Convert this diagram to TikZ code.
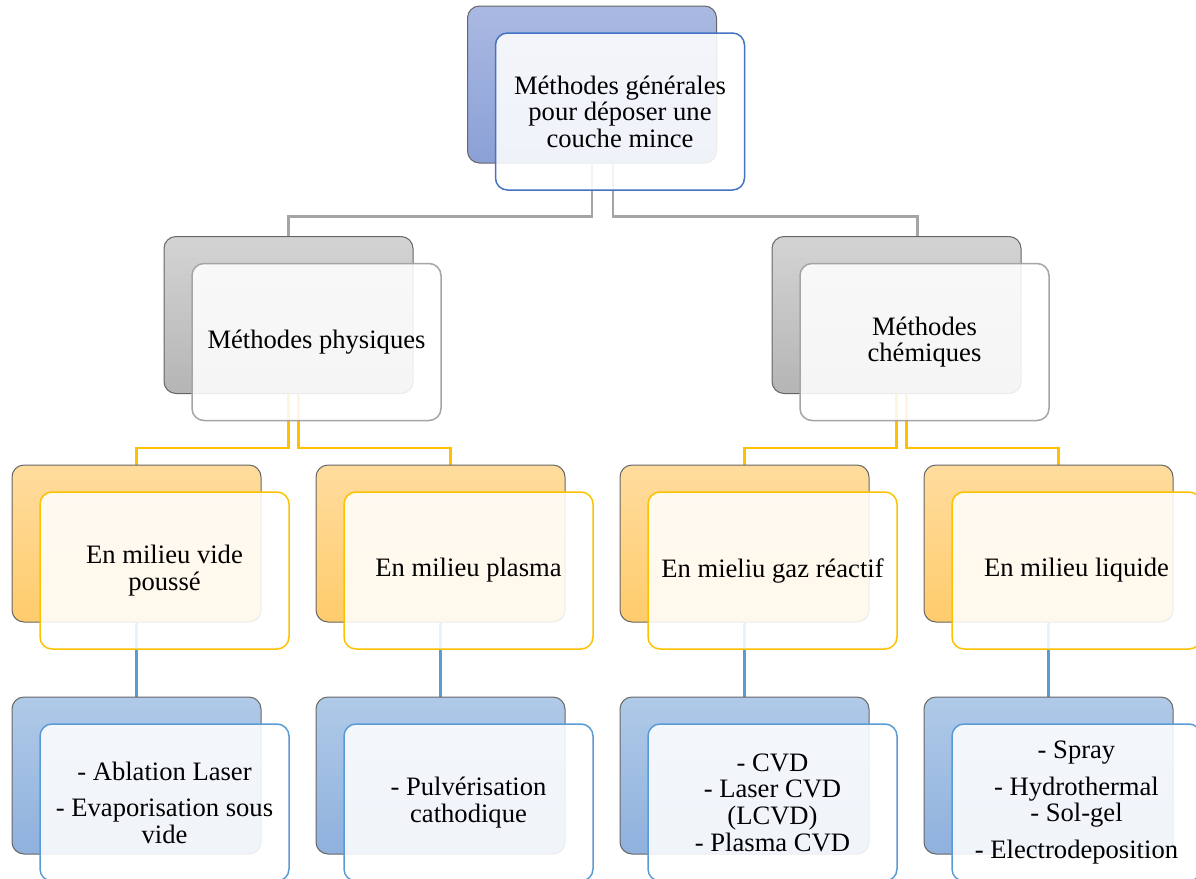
\documentclass[tikz,border=0pt]{standalone}
\usepackage{fontspec}
\setmainfont{Liberation Serif}
\usepackage{tikz}
\usetikzlibrary{positioning,calc,backgrounds}
\definecolor{smnavy}{HTML}{4472C4}
\definecolor{smgray}{HTML}{A5A5A5}
\definecolor{smgold}{HTML}{FFC000}
\definecolor{smsky}{HTML}{5B9BD5}
\definecolor{navytop}{HTML}{AAB9E2}
\definecolor{navybot}{HTML}{8BA0D6}
\definecolor{goldtop}{HTML}{FFDC9E}
\definecolor{goldbot}{HTML}{FFCC6C}
\definecolor{skytop}{HTML}{B0CAE8}
\definecolor{skybot}{HTML}{8FB1DD}
\newcommand{\boxfont}{\fontsize{13.3pt}{13.3pt}\selectfont}
\tikzset{
  backbox/.style ={draw=black!60, line width=0.5pt, rounded corners=6pt,
                   minimum width=124.5pt, minimum height=78.5pt, inner sep=0pt},
  frontbox/.style={fill=white, fill opacity=0.87, text opacity=1, line width=0.75pt,
                   rounded corners=6pt, minimum width=124.5pt, minimum height=78.5pt,
                   inner sep=0pt, align=center, font=\boxfont},
  navyback/.style ={backbox, top color=navytop, bottom color=navybot},
  navyfront/.style={frontbox, draw=smnavy},
  grayback/.style ={backbox, top color=black!17, bottom color=black!29},
  grayfront/.style={frontbox, draw=smgray},
  goldback/.style ={backbox, top color=goldtop, bottom color=goldbot},
  goldfront/.style={frontbox, draw=smgold},
  skyback/.style  ={backbox, top color=skytop, bottom color=skybot},
  skyfront/.style ={frontbox, draw=smsky},
  link/.style     ={line width=1.1pt},
}
% one SmartArt block: back tile + shifted front tile with the text
\newcommand{\smbox}[5]{%
  \node[#4back] (#1back) at (#2,#3) {};
  \node[#4front] (#1) at ($(#2,#3)+(28,27)$) {#5};}

\begin{document}
\begin{tikzpicture}[x=0.5pt,y=-0.5pt]
  \useasboundingbox (0,0) rectangle (1196,879);
  \clip (0,0) rectangle (1196,879);
  \smbox{top}{592}{84.5}{navy}{M\'ethodes g\'en\'erales\\pour d\'eposer une\\couche mince}
  \smbox{phys}{288.5}{315}{gray}{M\'ethodes physiques}
  \smbox{chem}{896.5}{315}{gray}{M\'ethodes\\ch\'emiques}
  \smbox{vac}{136.5}{543.5}{gold}{En milieu vide\\pouss\'e}
  \smbox{plasma}{440.5}{543.5}{gold}{En milieu plasma}
  \smbox{gaz}{744.5}{543.5}{gold}{En mieliu gaz r\'eactif}
  \smbox{liq}{1048.5}{543.5}{gold}{En milieu liquide}
  \smbox{abl}{136.5}{775.5}{sky}{- Ablation Laser\\[5pt]- Evaporisation sous\\vide}
  \smbox{pulv}{440.5}{775.5}{sky}{- Pulv\'erisation\\cathodique}
  \smbox{cvd}{744.5}{775.5}{sky}{- CVD\\- Laser CVD\\(LCVD)\\- Plasma CVD}
  \smbox{sol}{1048.5}{775.5}{sky}{- Spray\\[5pt]- Hydrothermal\\- Sol-gel\\[5pt]- Electrodeposition}
  \begin{scope}[on background layer]
    \draw[link,smgray] (topback.south) -- ++(0,53) -| (physback.north);
    \draw[link,smgray] ([xshift=10.5pt]topback.south) -- ++(0,53) -| ([xshift=10.5pt]chemback.north);
    \draw[link,smgold] (physback.south) -- ++(0,54) -| (vacback.north);
    \draw[link,smgold] ([xshift=5pt]physback.south) -- ++(0,54) -| ([xshift=5pt]plasmaback.north);
    \draw[link,smgold] (chemback.south) -- ++(0,54) -| (gazback.north);
    \draw[link,smgold] ([xshift=5pt]chemback.south) -- ++(0,54) -| ([xshift=5pt]liqback.north);
    \foreach \a/\b in {vac/abl,plasma/pulv,gaz/cvd,liq/sol}
      \draw[link,smsky] (\a back.south) -- (\b back.north);
  \end{scope}
\end{tikzpicture}
\end{document}
